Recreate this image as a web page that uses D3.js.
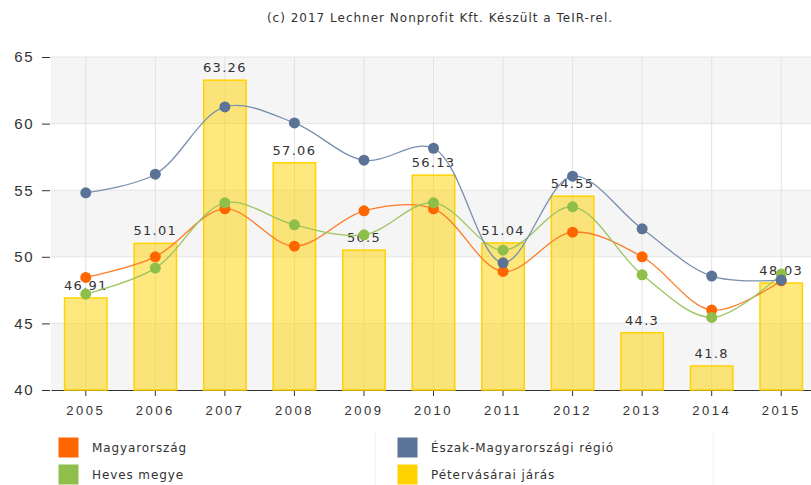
<!DOCTYPE html>
<html>
<head>
<meta charset="utf-8">
<script src="https://cdn.jsdelivr.net/npm/d3@7"></script>
<style>
  body { margin: 0; background: #fff; }
  svg { display: block; font-family: 'DejaVu Sans', Verdana, sans-serif; }
</style>
</head>
<body>
<div id="chart"></div>
<script>
// chart values
const years = ['2005', '2006', '2007', '2008', '2009', '2010', '2011', '2012', '2013', '2014', '2015'];
const jarasValues = [46.91, 51.01, 63.26, 57.06, 50.5, 56.13, 51.04, 54.55, 44.3, 41.8, 48.03];
const regioValues = [54.8, 56.2, 61.25, 60.05, 57.25, 58.15, 49.55, 56.05, 52.1, 48.55, 48.25];
const orszagValues = [48.45, 50.0, 53.6, 50.8, 53.45, 53.6, 48.9, 51.85, 50.0, 46.0, 48.2];
const megyeValues = [47.2, 49.15, 54.05, 52.4, 51.65, 54.05, 50.5, 53.75, 48.65, 45.45, 48.7];
const yTicks = [40, 45, 50, 55, 60, 65];

const title = '(c) 2017 Lechner Nonprofit Kft. Készült a TeIR-rel.';
const lineSeries = [
  { name: 'Magyarország', values: orszagValues, color: '#ff6600', line: '#ff7a26' },
  { name: 'Heves megye', values: megyeValues, color: '#8fbe4a', line: '#9cc45e' },
  { name: 'Észak-Magyarországi régió', values: regioValues, color: '#5a7396', line: '#7a8fae' }
];
const legendItems = [
  { name: 'Magyarország', color: '#ff6600' },
  { name: 'Észak-Magyarországi régió', color: '#5a7396' },
  { name: 'Heves megye', color: '#8fbe4a' },
  { name: 'Pétervásárai járás', color: '#ffd200' }
];

const width = 811, height = 485;
const margin = { top: 57, left: 51, bottom: 95 };
const plotRight = 816;
const plotBottom = height - margin.bottom;

const svg = d3.select('#chart').append('svg')
  .attr('width', width)
  .attr('height', height);

const x = d3.scaleBand()
  .domain(years)
  .range([margin.left, plotRight])
  .paddingInner(0.39)
  .paddingOuter(0.195);

const y = d3.scaleLinear()
  .domain([40, 65])
  .range([plotBottom, margin.top]);

const cx = d => x(d) + x.bandwidth() / 2;

// alternating bands
const bands = d3.pairs(yTicks).filter((p, i) => i % 2 === 0);
svg.append('g').selectAll('rect')
  .data(bands)
  .join('rect')
  .attr('x', margin.left)
  .attr('width', plotRight - margin.left)
  .attr('y', d => y(d[1]))
  .attr('height', d => y(d[0]) - y(d[1]))
  .attr('fill', '#f5f5f5');

// horizontal grid
svg.append('g').selectAll('line')
  .data(yTicks.slice(1))
  .join('line')
  .attr('x1', margin.left).attr('x2', plotRight)
  .attr('y1', d => y(d)).attr('y2', d => y(d))
  .attr('stroke', '#e4e4e4');

// vertical grid
svg.append('g').selectAll('line')
  .data(years)
  .join('line')
  .attr('x1', d => cx(d)).attr('x2', d => cx(d))
  .attr('y1', margin.top).attr('y2', plotBottom)
  .attr('stroke', '#e2e2e2');

// y axis (ticks only)
const yAxis = svg.append('g')
  .attr('transform', `translate(${margin.left - 1},0)`)
  .call(d3.axisLeft(y).tickValues(yTicks).tickSize(8).tickPadding(8));
yAxis.select('.domain').remove();
yAxis.selectAll('.tick line').attr('stroke', '#333');
yAxis.selectAll('.tick text')
  .attr('fill', '#333')
  .style('font-size', '15px')
  .style('letter-spacing', '1.5px');

// x axis
const xAxis = svg.append('g')
  .attr('transform', `translate(0,${plotBottom})`)
  .call(d3.axisBottom(x).tickSize(6).tickPadding(10).tickSizeOuter(0));
xAxis.select('.domain').attr('stroke', '#333');
xAxis.selectAll('.tick line').attr('stroke', '#333');
xAxis.selectAll('.tick text')
  .attr('fill', '#333')
  .style('font-size', '13px')
  .style('letter-spacing', '2.5px');

// bars
svg.append('g').selectAll('rect')
  .data(jarasValues)
  .join('rect')
  .attr('x', (d, i) => x(years[i]))
  .attr('width', x.bandwidth())
  .attr('y', d => y(d))
  .attr('height', d => plotBottom - y(d))
  .attr('fill', 'rgba(255, 212, 0, 0.5)')
  .attr('stroke', '#ffd200')
  .attr('stroke-width', 1.5);

// bar labels
svg.append('g').selectAll('text')
  .data(jarasValues)
  .join('text')
  .attr('x', (d, i) => cx(years[i]))
  .attr('y', d => y(d) - 8)
  .attr('text-anchor', 'middle')
  .attr('fill', '#333')
  .style('font-size', '13px')
  .style('letter-spacing', '1.3px')
  .text(d => d);

// spline lines
const line = d3.line()
  .x((d, i) => cx(years[i]))
  .y(d => y(d))
  .curve(d3.curveCatmullRom.alpha(0.5));

lineSeries.forEach(s => {
  svg.append('path')
    .datum(s.values)
    .attr('d', line)
    .attr('fill', 'none')
    .attr('stroke', s.line)
    .attr('stroke-width', 1.3);
});

lineSeries.forEach(s => {
  svg.append('g').selectAll('circle')
    .data(s.values)
    .join('circle')
    .attr('cx', (d, i) => cx(years[i]))
    .attr('cy', d => y(d))
    .attr('r', 5.5)
    .attr('fill', s.color);
});

// title
svg.append('text')
  .attr('x', 440)
  .attr('y', 22)
  .attr('text-anchor', 'middle')
  .attr('fill', '#333')
  .style('font-size', '12px')
  .style('letter-spacing', '1px')
  .text(title);

// legend
const legend = svg.append('g');
[375, 713].forEach(lx => {
  legend.append('line')
    .attr('x1', lx).attr('x2', lx)
    .attr('y1', 432).attr('y2', height)
    .attr('stroke', '#f2f2f2');
});
const item = legend.selectAll('g')
  .data(legendItems)
  .join('g')
  .attr('transform', (d, i) => `translate(${i % 2 === 0 ? 58 : 397},${437 + Math.floor(i / 2) * 27})`);
item.append('rect')
  .attr('width', 21).attr('height', 21)
  .attr('fill', d => d.color)
  .attr('stroke', '#fff');
item.append('text')
  .attr('x', 34)
  .attr('y', 15)
  .attr('fill', '#333')
  .style('font-size', '12px')
  .style('letter-spacing', '0.9px')
  .text(d => d.name);
</script>
</body>
</html>
